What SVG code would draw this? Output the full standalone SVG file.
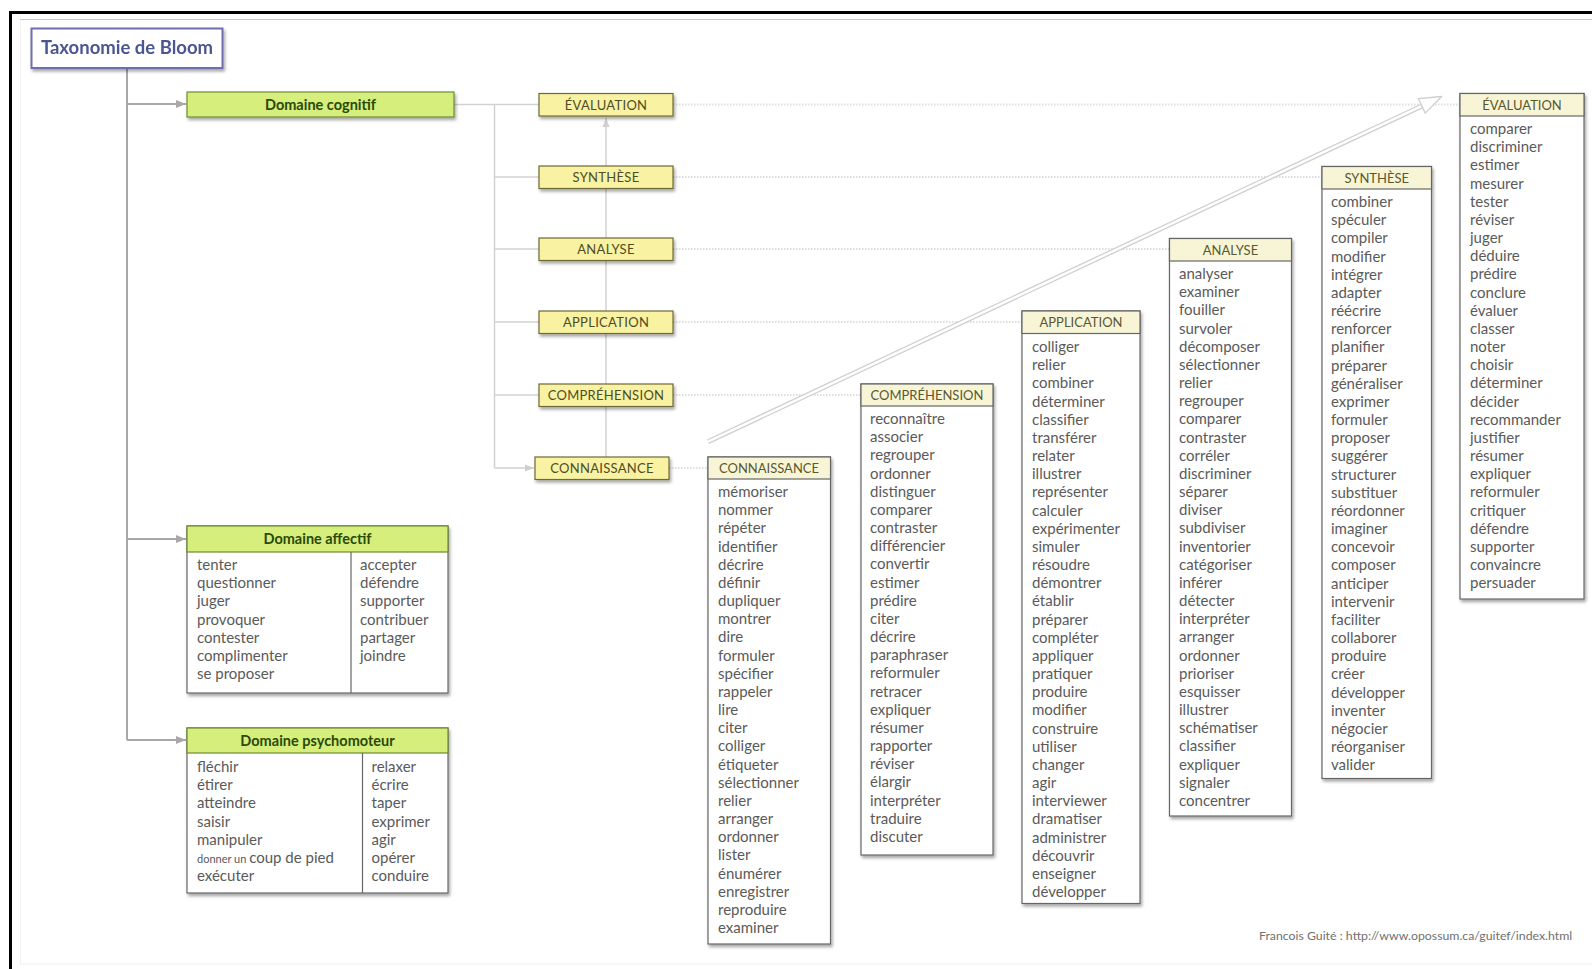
<svg xmlns="http://www.w3.org/2000/svg" width="1592" height="969" viewBox="0 0 1592 969">
<defs>
<filter id="sh" x="-10%" y="-10%" width="130%" height="140%">
<feDropShadow dx="1.5" dy="2.5" stdDeviation="1.6" flood-color="#000" flood-opacity="0.35"/>
</filter>
<marker id="ah" viewBox="0 0 10 10" refX="10" refY="5" markerWidth="10" markerHeight="10" markerUnits="userSpaceOnUse" orient="auto">
<path d="M0,1 L10,5 L0,9 z" fill="#a8a8a8"/>
</marker>
<marker id="ahl" viewBox="0 0 10 10" refX="10" refY="5" markerWidth="9" markerHeight="9" markerUnits="userSpaceOnUse" orient="auto">
<path d="M0,1 L10,5 L0,9 z" fill="#d0d0d0"/>
</marker>
</defs>
<style>
.lvl{fill:#f8f2a2;stroke:#6e6a34;stroke-width:1.2}
.lvlt{font-family:Lato,"Open Sans",sans-serif;font-size:13px;letter-spacing:0.3px;fill:#4f4d24;text-anchor:middle}
.dom{fill:#d5ee7c;stroke:#6f8a35;stroke-width:1.2}
.domt{font-family:Lato,"Open Sans",sans-serif;font-size:14.5px;font-weight:bold;fill:#2b4a06;text-anchor:middle}
.body{fill:#fff;stroke:#666;stroke-width:1.2}
.hd{fill:#f8f5d6;stroke:#666;stroke-width:1.2}
.hdt{font-family:Lato,"Open Sans",sans-serif;font-size:13px;fill:#5a5830;text-anchor:middle}
.it{font-family:Lato,"Open Sans",sans-serif;font-size:15px;fill:#5a5a5a}
.ln{stroke:#a8a8a8;stroke-width:2;fill:none}
.lnl{stroke:#d2d2d2;stroke-width:1.5;fill:none}
.dot{stroke:#dedede;stroke-width:2;stroke-dasharray:1.5 1.5;fill:none}
</style>
<rect width="1592" height="969" fill="#fff"/>
<g id="frame">
<rect x="9" y="11" width="1583" height="3" fill="#000"/>
<rect x="9" y="11" width="3" height="958" fill="#000"/>
<line x1="20" y1="19.5" x2="1592" y2="19.5" stroke="#c8c8c8" stroke-width="1"/>
<line x1="20" y1="964" x2="1592" y2="964" stroke="#eeeeee" stroke-width="1"/>
<line x1="20.5" y1="20" x2="20.5" y2="964" stroke="#f2f2f2" stroke-width="1"/>
</g>
<g id="connectors">
<line class="ln" x1="127" y1="68" x2="127" y2="740"/>
<line class="ln" x1="127" y1="104" x2="186" y2="104" marker-end="url(#ah)"/>
<line class="ln" x1="127" y1="539" x2="186" y2="539" marker-end="url(#ah)"/>
<line class="ln" x1="127" y1="740" x2="186" y2="740" marker-end="url(#ah)"/>
<line class="lnl" x1="454" y1="104.5" x2="494.5" y2="104.5"/>
<line class="lnl" x1="494.5" y1="104.5" x2="494.5" y2="468"/>
<line class="lnl" x1="494.5" y1="104.5" x2="539" y2="104.5"/>
<line class="lnl" x1="494.5" y1="177" x2="539" y2="177"/>
<line class="lnl" x1="494.5" y1="249" x2="539" y2="249"/>
<line class="lnl" x1="494.5" y1="322" x2="539" y2="322"/>
<line class="lnl" x1="494.5" y1="395" x2="539" y2="395"/>
<line class="lnl" x1="494.5" y1="468" x2="534" y2="468" marker-end="url(#ahl)"/>
<line class="lnl" x1="606" y1="457" x2="606" y2="118" marker-end="url(#ahl)"/>
<line class="dot" x1="673" y1="104.5" x2="1460" y2="104.5"/>
<line class="dot" x1="673" y1="177" x2="1322" y2="177"/>
<line class="dot" x1="673" y1="249" x2="1169" y2="249"/>
<line class="dot" x1="673" y1="322" x2="1022" y2="322"/>
<line class="dot" x1="673" y1="395" x2="861" y2="395"/>
<line class="dot" x1="669" y1="468" x2="707" y2="468"/>
<line x1="708" y1="441.7" x2="1422" y2="105.9" stroke="#cfcfcf" stroke-width="5"/>
<line x1="708" y1="441.7" x2="1423" y2="105.4" stroke="#fff" stroke-width="2.4"/>
<path d="M1441.7,96.5 L1418.4,98.7 L1421.8,105.9 L1425.2,113.1 Z" fill="#fff" stroke="#cfcfcf" stroke-width="1.3" stroke-linejoin="round"/>
</g>
<g id="title" filter="url(#sh)">
<rect x="31.5" y="28.5" width="191" height="39.5" fill="#fff" stroke="#6d6db0" stroke-width="2"/>
<text x="127" y="54" font-family="Lato,'Open Sans',sans-serif" font-size="18.5px" font-weight="bold" fill="#4b5592" text-anchor="middle">Taxonomie de Bloom</text>
</g>
<g id="domaine-cognitif">
<rect class="dom" x="187" y="92" width="267" height="25" filter="url(#sh)"/>
<text class="domt" x="320.5" y="109.5">Domaine cognitif</text>
</g>
<g id="domaine-affectif">
<rect class="body" x="187" y="526" width="261" height="167" filter="url(#sh)"/>
<rect class="dom" x="187" y="526" width="261" height="26"/>
<line x1="351" y1="552" x2="351" y2="693" stroke="#666" stroke-width="1.2"/>
<text class="domt" x="317.5" y="544">Domaine affectif</text>
<text class="it" x="197" y="570"><tspan x="197">tenter</tspan><tspan x="197" dy="18.2">questionner</tspan><tspan x="197" dy="18.2">juger</tspan><tspan x="197" dy="18.2">provoquer</tspan><tspan x="197" dy="18.2">contester</tspan><tspan x="197" dy="18.2">complimenter</tspan><tspan x="197" dy="18.2">se proposer</tspan></text>
<text class="it" x="360" y="570"><tspan x="360">accepter</tspan><tspan x="360" dy="18.2">défendre</tspan><tspan x="360" dy="18.2">supporter</tspan><tspan x="360" dy="18.2">contribuer</tspan><tspan x="360" dy="18.2">partager</tspan><tspan x="360" dy="18.2">joindre</tspan></text>
</g>
<g id="domaine-psychomoteur">
<rect class="body" x="187" y="728" width="261" height="165" filter="url(#sh)"/>
<rect class="dom" x="187" y="728" width="261" height="25"/>
<line x1="362.5" y1="753" x2="362.5" y2="893" stroke="#666" stroke-width="1.2"/>
<text class="domt" x="317.5" y="746">Domaine psychomoteur</text>
<text class="it" x="197" y="772"><tspan x="197">fléchir</tspan><tspan x="197" dy="18.2">étirer</tspan><tspan x="197" dy="18.2">atteindre</tspan><tspan x="197" dy="18.2">saisir</tspan><tspan x="197" dy="18.2">manipuler</tspan><tspan x="197" dy="18.2" font-size="11px">donner un </tspan><tspan>coup de pied</tspan><tspan x="197" dy="18.2">exécuter</tspan></text>
<text class="it" x="371.5" y="772"><tspan x="371.5">relaxer</tspan><tspan x="371.5" dy="18.2">écrire</tspan><tspan x="371.5" dy="18.2">taper</tspan><tspan x="371.5" dy="18.2">exprimer</tspan><tspan x="371.5" dy="18.2">agir</tspan><tspan x="371.5" dy="18.2">opérer</tspan><tspan x="371.5" dy="18.2">conduire</tspan></text>
</g>
<g id="lvl-evaluation"><rect class="lvl" x="539" y="93.5" width="134" height="22.5" filter="url(#sh)"/><text class="lvlt" x="606" y="109.5">ÉVALUATION</text></g>
<g id="lvl-synthese"><rect class="lvl" x="539" y="166" width="134" height="22.5" filter="url(#sh)"/><text class="lvlt" x="606" y="182">SYNTHÈSE</text></g>
<g id="lvl-analyse"><rect class="lvl" x="539" y="238" width="134" height="22.5" filter="url(#sh)"/><text class="lvlt" x="606" y="254">ANALYSE</text></g>
<g id="lvl-application"><rect class="lvl" x="539" y="311" width="134" height="22.5" filter="url(#sh)"/><text class="lvlt" x="606" y="327">APPLICATION</text></g>
<g id="lvl-comprehension"><rect class="lvl" x="539" y="384" width="134" height="22.5" filter="url(#sh)"/><text class="lvlt" x="606" y="400">COMPRÉHENSION</text></g>
<g id="lvl-connaissance"><rect class="lvl" x="535" y="457" width="134" height="22.5" filter="url(#sh)"/><text class="lvlt" x="602" y="473">CONNAISSANCE</text></g>
<g id="det-connaissance">
<rect class="body" x="708" y="457" width="122.5" height="487" filter="url(#sh)"/>
<rect class="hd" x="708" y="457" width="122.5" height="22"/>
<text class="hdt" x="769" y="473">CONNAISSANCE</text>
<text class="it" x="718" y="497"><tspan x="718">mémoriser</tspan><tspan x="718" dy="18.17">nommer</tspan><tspan x="718" dy="18.17">répéter</tspan><tspan x="718" dy="18.17">identifier</tspan><tspan x="718" dy="18.17">décrire</tspan><tspan x="718" dy="18.17">définir</tspan><tspan x="718" dy="18.17">dupliquer</tspan><tspan x="718" dy="18.17">montrer</tspan><tspan x="718" dy="18.17">dire</tspan><tspan x="718" dy="18.17">formuler</tspan><tspan x="718" dy="18.17">spécifier</tspan><tspan x="718" dy="18.17">rappeler</tspan><tspan x="718" dy="18.17">lire</tspan><tspan x="718" dy="18.17">citer</tspan><tspan x="718" dy="18.17">colliger</tspan><tspan x="718" dy="18.17">étiqueter</tspan><tspan x="718" dy="18.17">sélectionner</tspan><tspan x="718" dy="18.17">relier</tspan><tspan x="718" dy="18.17">arranger</tspan><tspan x="718" dy="18.17">ordonner</tspan><tspan x="718" dy="18.17">lister</tspan><tspan x="718" dy="18.17">énumérer</tspan><tspan x="718" dy="18.17">enregistrer</tspan><tspan x="718" dy="18.17">reproduire</tspan><tspan x="718" dy="18.17">examiner</tspan></text>
</g>
<g id="det-comprehension">
<rect class="body" x="861" y="384" width="132" height="471" filter="url(#sh)"/>
<rect class="hd" x="861" y="384" width="132" height="22"/>
<text class="hdt" x="927" y="400">COMPRÉHENSION</text>
<text class="it" x="870" y="424"><tspan x="870">reconnaître</tspan><tspan x="870" dy="18.17">associer</tspan><tspan x="870" dy="18.17">regrouper</tspan><tspan x="870" dy="18.17">ordonner</tspan><tspan x="870" dy="18.17">distinguer</tspan><tspan x="870" dy="18.17">comparer</tspan><tspan x="870" dy="18.17">contraster</tspan><tspan x="870" dy="18.17">différencier</tspan><tspan x="870" dy="18.17">convertir</tspan><tspan x="870" dy="18.17">estimer</tspan><tspan x="870" dy="18.17">prédire</tspan><tspan x="870" dy="18.17">citer</tspan><tspan x="870" dy="18.17">décrire</tspan><tspan x="870" dy="18.17">paraphraser</tspan><tspan x="870" dy="18.17">reformuler</tspan><tspan x="870" dy="18.17">retracer</tspan><tspan x="870" dy="18.17">expliquer</tspan><tspan x="870" dy="18.17">résumer</tspan><tspan x="870" dy="18.17">rapporter</tspan><tspan x="870" dy="18.17">réviser</tspan><tspan x="870" dy="18.17">élargir</tspan><tspan x="870" dy="18.17">interpréter</tspan><tspan x="870" dy="18.17">traduire</tspan><tspan x="870" dy="18.17">discuter</tspan></text>
</g>
<g id="det-application">
<rect class="body" x="1022" y="311" width="118" height="592.5" filter="url(#sh)"/>
<rect class="hd" x="1022" y="311" width="118" height="22.5"/>
<text class="hdt" x="1081" y="327">APPLICATION</text>
<text class="it" x="1032" y="352"><tspan x="1032">colliger</tspan><tspan x="1032" dy="18.17">relier</tspan><tspan x="1032" dy="18.17">combiner</tspan><tspan x="1032" dy="18.17">déterminer</tspan><tspan x="1032" dy="18.17">classifier</tspan><tspan x="1032" dy="18.17">transférer</tspan><tspan x="1032" dy="18.17">relater</tspan><tspan x="1032" dy="18.17">illustrer</tspan><tspan x="1032" dy="18.17">représenter</tspan><tspan x="1032" dy="18.17">calculer</tspan><tspan x="1032" dy="18.17">expérimenter</tspan><tspan x="1032" dy="18.17">simuler</tspan><tspan x="1032" dy="18.17">résoudre</tspan><tspan x="1032" dy="18.17">démontrer</tspan><tspan x="1032" dy="18.17">établir</tspan><tspan x="1032" dy="18.17">préparer</tspan><tspan x="1032" dy="18.17">compléter</tspan><tspan x="1032" dy="18.17">appliquer</tspan><tspan x="1032" dy="18.17">pratiquer</tspan><tspan x="1032" dy="18.17">produire</tspan><tspan x="1032" dy="18.17">modifier</tspan><tspan x="1032" dy="18.17">construire</tspan><tspan x="1032" dy="18.17">utiliser</tspan><tspan x="1032" dy="18.17">changer</tspan><tspan x="1032" dy="18.17">agir</tspan><tspan x="1032" dy="18.17">interviewer</tspan><tspan x="1032" dy="18.17">dramatiser</tspan><tspan x="1032" dy="18.17">administrer</tspan><tspan x="1032" dy="18.17">découvrir</tspan><tspan x="1032" dy="18.17">enseigner</tspan><tspan x="1032" dy="18.17">développer</tspan></text>
</g>
<g id="det-analyse">
<rect class="body" x="1169.5" y="238.5" width="122" height="577.5" filter="url(#sh)"/>
<rect class="hd" x="1169.5" y="238.5" width="122" height="22.5"/>
<text class="hdt" x="1230.5" y="254.5">ANALYSE</text>
<text class="it" x="1179" y="279"><tspan x="1179">analyser</tspan><tspan x="1179" dy="18.17">examiner</tspan><tspan x="1179" dy="18.17">fouiller</tspan><tspan x="1179" dy="18.17">survoler</tspan><tspan x="1179" dy="18.17">décomposer</tspan><tspan x="1179" dy="18.17">sélectionner</tspan><tspan x="1179" dy="18.17">relier</tspan><tspan x="1179" dy="18.17">regrouper</tspan><tspan x="1179" dy="18.17">comparer</tspan><tspan x="1179" dy="18.17">contraster</tspan><tspan x="1179" dy="18.17">corréler</tspan><tspan x="1179" dy="18.17">discriminer</tspan><tspan x="1179" dy="18.17">séparer</tspan><tspan x="1179" dy="18.17">diviser</tspan><tspan x="1179" dy="18.17">subdiviser</tspan><tspan x="1179" dy="18.17">inventorier</tspan><tspan x="1179" dy="18.17">catégoriser</tspan><tspan x="1179" dy="18.17">inférer</tspan><tspan x="1179" dy="18.17">détecter</tspan><tspan x="1179" dy="18.17">interpréter</tspan><tspan x="1179" dy="18.17">arranger</tspan><tspan x="1179" dy="18.17">ordonner</tspan><tspan x="1179" dy="18.17">prioriser</tspan><tspan x="1179" dy="18.17">esquisser</tspan><tspan x="1179" dy="18.17">illustrer</tspan><tspan x="1179" dy="18.17">schématiser</tspan><tspan x="1179" dy="18.17">classifier</tspan><tspan x="1179" dy="18.17">expliquer</tspan><tspan x="1179" dy="18.17">signaler</tspan><tspan x="1179" dy="18.17">concentrer</tspan></text>
</g>
<g id="det-synthese">
<rect class="body" x="1322" y="166.5" width="109.5" height="612" filter="url(#sh)"/>
<rect class="hd" x="1322" y="166.5" width="109.5" height="22.5"/>
<text class="hdt" x="1376.75" y="182.5">SYNTHÈSE</text>
<text class="it" x="1331" y="207"><tspan x="1331">combiner</tspan><tspan x="1331" dy="18.17">spéculer</tspan><tspan x="1331" dy="18.17">compiler</tspan><tspan x="1331" dy="18.17">modifier</tspan><tspan x="1331" dy="18.17">intégrer</tspan><tspan x="1331" dy="18.17">adapter</tspan><tspan x="1331" dy="18.17">réécrire</tspan><tspan x="1331" dy="18.17">renforcer</tspan><tspan x="1331" dy="18.17">planifier</tspan><tspan x="1331" dy="18.17">préparer</tspan><tspan x="1331" dy="18.17">généraliser</tspan><tspan x="1331" dy="18.17">exprimer</tspan><tspan x="1331" dy="18.17">formuler</tspan><tspan x="1331" dy="18.17">proposer</tspan><tspan x="1331" dy="18.17">suggérer</tspan><tspan x="1331" dy="18.17">structurer</tspan><tspan x="1331" dy="18.17">substituer</tspan><tspan x="1331" dy="18.17">réordonner</tspan><tspan x="1331" dy="18.17">imaginer</tspan><tspan x="1331" dy="18.17">concevoir</tspan><tspan x="1331" dy="18.17">composer</tspan><tspan x="1331" dy="18.17">anticiper</tspan><tspan x="1331" dy="18.17">intervenir</tspan><tspan x="1331" dy="18.17">faciliter</tspan><tspan x="1331" dy="18.17">collaborer</tspan><tspan x="1331" dy="18.17">produire</tspan><tspan x="1331" dy="18.17">créer</tspan><tspan x="1331" dy="18.17">développer</tspan><tspan x="1331" dy="18.17">inventer</tspan><tspan x="1331" dy="18.17">négocier</tspan><tspan x="1331" dy="18.17">réorganiser</tspan><tspan x="1331" dy="18.17">valider</tspan></text>
</g>
<g id="det-evaluation">
<rect class="body" x="1460" y="93.5" width="124" height="505.5" filter="url(#sh)"/>
<rect class="hd" x="1460" y="93.5" width="124" height="22.5"/>
<text class="hdt" x="1522" y="109.5">ÉVALUATION</text>
<text class="it" x="1470" y="134"><tspan x="1470">comparer</tspan><tspan x="1470" dy="18.17">discriminer</tspan><tspan x="1470" dy="18.17">estimer</tspan><tspan x="1470" dy="18.17">mesurer</tspan><tspan x="1470" dy="18.17">tester</tspan><tspan x="1470" dy="18.17">réviser</tspan><tspan x="1470" dy="18.17">juger</tspan><tspan x="1470" dy="18.17">déduire</tspan><tspan x="1470" dy="18.17">prédire</tspan><tspan x="1470" dy="18.17">conclure</tspan><tspan x="1470" dy="18.17">évaluer</tspan><tspan x="1470" dy="18.17">classer</tspan><tspan x="1470" dy="18.17">noter</tspan><tspan x="1470" dy="18.17">choisir</tspan><tspan x="1470" dy="18.17">déterminer</tspan><tspan x="1470" dy="18.17">décider</tspan><tspan x="1470" dy="18.17">recommander</tspan><tspan x="1470" dy="18.17">justifier</tspan><tspan x="1470" dy="18.17">résumer</tspan><tspan x="1470" dy="18.17">expliquer</tspan><tspan x="1470" dy="18.17">reformuler</tspan><tspan x="1470" dy="18.17">critiquer</tspan><tspan x="1470" dy="18.17">défendre</tspan><tspan x="1470" dy="18.17">supporter</tspan><tspan x="1470" dy="18.17">convaincre</tspan><tspan x="1470" dy="18.17">persuader</tspan></text>
</g>
<g id="footer">
<text x="1259" y="940" font-family="Lato,'Open Sans',sans-serif" font-size="12.3px" fill="#707070">Francois Guité : http://www.opossum.ca/guitef/index.html</text>
</g>
</svg>
